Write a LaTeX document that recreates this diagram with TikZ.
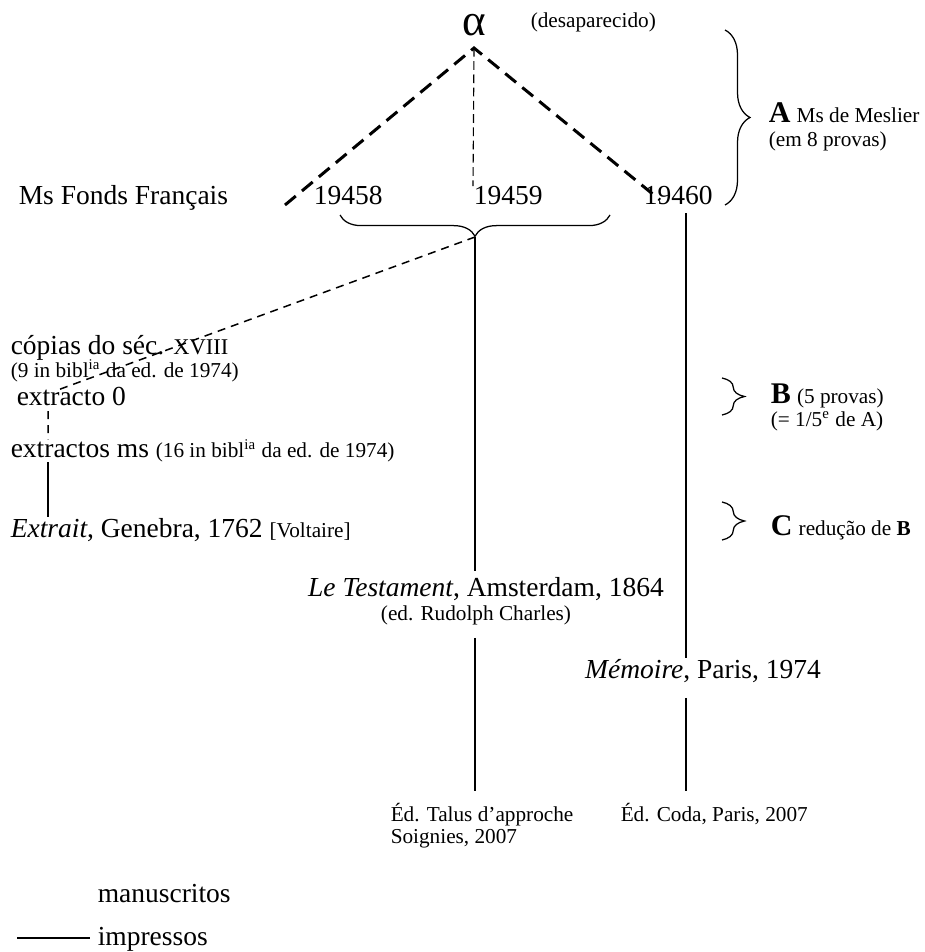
\documentclass[tikz,border=0pt]{standalone}
\usepackage{fontspec}
\setmainfont{Liberation Serif}
\usetikzlibrary{decorations.pathreplacing}

\begin{document}
\begin{tikzpicture}[x=0.4pt, y=-0.4pt, line width=0.6pt,
    txt/.style={font=\fontsize{11}{13}\selectfont, inner sep=0pt},
    sml/.style={font=\fontsize{8.5}{10}\selectfont, inner sep=0pt},
    ms/.style={dash pattern=on 5.6pt off 3.2pt, line width=1.2pt},
    msthin/.style={dash pattern=on 3.5pt off 1.8pt, line width=0.45pt},
    mscopy/.style={dash pattern=on 3.2pt off 2.4pt, line width=0.6pt},
    br/.style={decorate, decoration={brace, amplitude=#1}, line width=0.5pt},
    br/.default=9pt]
    \useasboundingbox (0,0) rectangle (925,952);

    % arquetipo e manuscritos
    \node[inner sep=0pt, font=\fontsize{18}{20}\selectfont, anchor=base] (alpha) at (474,36) {α};
    \node[sml, anchor=base west] (desap) at (530,28) {(desaparecido)};
    \coordinate (apex) at (474,48);
    \node[txt, anchor=base west] (ff) at (18,205) {Ms Fonds Français};
    \node[txt, anchor=base west] (n58) at (313,205) {19458};
    \node[txt, anchor=base west] (n59) at (473,205) {19459};
    \node[txt, anchor=base west] (n60) at (643,205) {19460};
    \coordinate (l58) at (285,205);
    \coordinate (r60) at (660,200);
    \draw[ms] (l58) -- (apex) -- (r60);
    \draw[msthin] (apex) -- (n59.north west);

    \draw[br=8.5pt] (610,215) -- (340,215);
    \coordinate (b1tip) at (475,237);

    % provas
    \draw[br=10pt] (725,30) -- (725,205);
    \node[anchor=base west, inner sep=0pt] (labA) at (768,123)
        {{\fontsize{12}{14}\selectfont\bfseries A} {\fontsize{8.5}{10}\selectfont Ms de Meslier}};
    \node[sml, anchor=base west] (labA2) at (768,147) {(em 8 provas)};
    \draw[br] (722,378) -- (722,415);
    \node[anchor=base west, inner sep=0pt] (labB) at (770,403)
        {{\fontsize{12}{14}\selectfont\bfseries B} {\fontsize{8.5}{10}\selectfont (5 provas)}};
    \node[sml, anchor=base west] (labB2) at (770,426) {(= 1/5\textsuperscript{e} de A)};
    \draw[br] (722,502) -- (722,540);
    \node[anchor=base west, inner sep=0pt] (labC) at (770,535)
        {{\fontsize{12}{14}\selectfont\bfseries C} {\fontsize{8.5}{10}\selectfont redução de \textbf{B}}};

    % copias e extractos
    \node[txt, anchor=base west] (cop) at (10,354) {cópias do séc. {\fontsize{9}{11}\selectfont XVIII}};
    \node[sml, anchor=base west] (copn) at (10,377) {(9 in bibl\textsuperscript{ia} da ed. de 1974)};
    \node[txt, anchor=base west] (ext0) at (16,405) {extracto 0};
    \node[txt, anchor=base west] (extms) at (10,457)
        {extractos ms {\fontsize{8.5}{10}\selectfont (16 in bibl\textsuperscript{ia} da ed. de 1974)}};
    \node[txt, anchor=base west] (extr) at (10,537)
        {\textit{Extrait}, Genebra, 1762 {\fontsize{8.5}{10}\selectfont [Voltaire]}};
    \coordinate (c0) at (55,391);
    \draw[mscopy] (b1tip) -- (c0);
    \draw[mscopy] ([shift={(12.8pt,-2pt)}]ext0.south west) -- ([xshift=15.2pt]extms.north west);
    \draw ([xshift=15.2pt]extms.south west) -- ([xshift=15.2pt]extr.north west);

    % edicoes
    \node[txt, anchor=base] (test) at (486,596) {\textit{Le Testament}, Amsterdam, 1864};
    \node[sml, anchor=base] (tested) at (476,620) {(ed. Rudolph Charles)};
    \node[sml, anchor=base west] (talus) at (390,821) {Éd. Talus d’approche};
    \node[sml, anchor=base west] (talus2) at (390,843) {Soignies, 2007};
    \draw[shorten >=2pt] (b1tip) -- (b1tip |- test.north);
    \draw[shorten <=5pt, shorten >=4.5pt] (b1tip |- tested.south) -- (b1tip |- talus.north);

    \node[txt, anchor=base] (mem) at (703,678) {\textit{Mémoire}, Paris, 1974};
    \node[sml, anchor=base west] (coda) at (620,821) {Éd. Coda, Paris, 2007};
    \draw[shorten <=2.8pt] ([xshift=17.2pt]n60.south west) -- ([xshift=17.2pt]n60.south west |- mem.north);
    \draw[shorten <=6pt, shorten >=4.5pt] ([xshift=17.2pt]n60.south west |- mem.south)
        -- ([xshift=17.2pt]n60.south west |- coda.north);

    % legenda
    \node[txt, anchor=base west] (lgms) at (97,902) {manuscritos};
    \node[txt, anchor=base west] (lgim) at (97,945) {impressos};
    \coordinate (lgl) at (17,938);
    \draw[shorten >=2.8pt] (lgl) -- (lgl -| lgim.west);
\end{tikzpicture}
\end{document}
